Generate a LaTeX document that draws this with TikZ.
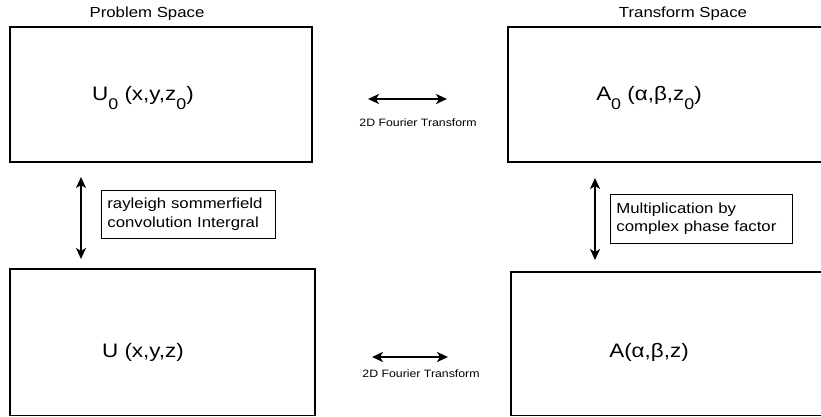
\documentclass[tikz,border=0pt]{standalone}
\usepackage{fontspec}
\setmainfont{Liberation Sans}[FakeStretch=1.15]
\usetikzlibrary{arrows.meta}
\newcommand\lowsub[1]{\raisebox{-9.5pt}{\fontsize{15.5}{15.5}\selectfont #1}}
\begin{document}
\begin{tikzpicture}[x=1pt,y=-1pt,
  bigbox/.style={draw=black, line width=1.2pt, rectangle, inner sep=0pt},
  title/.style={font=\fontsize{14.6}{17}\selectfont, inner sep=0pt},
  mainlbl/.style={font=\fontsize{19.5}{22}\selectfont, inner sep=0pt, anchor=base},
  smalllbl/.style={font=\fontsize{10.7}{13}\selectfont, inner sep=0pt},
  note/.style={draw=black, line width=0.8pt, rectangle, align=left,
     font=\fontsize{14.6}{18.5}\selectfont, inner xsep=6pt, inner ysep=0pt, anchor=north west},
  dbl/.style={{Stealth[length=11pt,width=10pt,inset=3pt]}-{Stealth[length=11pt,width=10pt,inset=3pt]}, line width=2.1pt}]
\useasboundingbox (0,0) rectangle (821,416);
\fill[white] (0,0) rectangle (821,416);

% boxes
\node[bigbox, minimum width=302pt, minimum height=135pt] (ps) at (161,94.5) {};
\node[bigbox, minimum width=314pt, minimum height=135pt] (ts) at (665,94.5) {};
\node[bigbox, minimum width=305pt, minimum height=146.5pt] (u) at (162.5,342.25) {};
\node[bigbox, minimum width=311pt, minimum height=143.5pt] (a) at (666.5,343.75) {};

% titles
\node[title] (t1) at (147,14) {Problem Space};
\node[title] (t2) at (683,14) {Transform Space};

% main labels
\node[mainlbl] (l1) at (143,100) {U\lowsub{0} (x,y,z\lowsub{0})};
\node[mainlbl] (l2) at (649,100) {A\lowsub{0} (α,β,z\lowsub{0})};
\node[mainlbl] (l3) at (143,357) {U (x,y,z)};
\node[mainlbl] (l4) at (649,357) {A(α,β,z)};

% horizontal arrows
\coordinate (h1a) at (368,99);
\coordinate (h1b) at (447,99);
\draw[dbl] (h1a) -- (h1b);
\node[smalllbl] (f1) at (418,123) {2D Fourier Transform};
\coordinate (h2a) at (372,357);
\coordinate (h2b) at (448,357);
\draw[dbl] (h2a) -- (h2b);
\node[smalllbl] (f2) at (421,374) {2D Fourier Transform};

% vertical arrows
\coordinate (v1a) at (81,177);
\coordinate (v1b) at (81,259);
\draw[dbl] (v1a) -- (v1b);
\coordinate (v2a) at (595,178);
\coordinate (v2b) at (595,260);
\draw[dbl] (v2a) -- (v2b);

% notes
\node[note, text width=162pt, minimum height=48pt] (n1) at (101,190) {rayleigh sommerfield\\convolution Intergral};
\node[note, text width=170pt, minimum height=49pt] (n2) at (610,194) {Multiplication by\\complex phase factor};
\end{tikzpicture}
\end{document}
